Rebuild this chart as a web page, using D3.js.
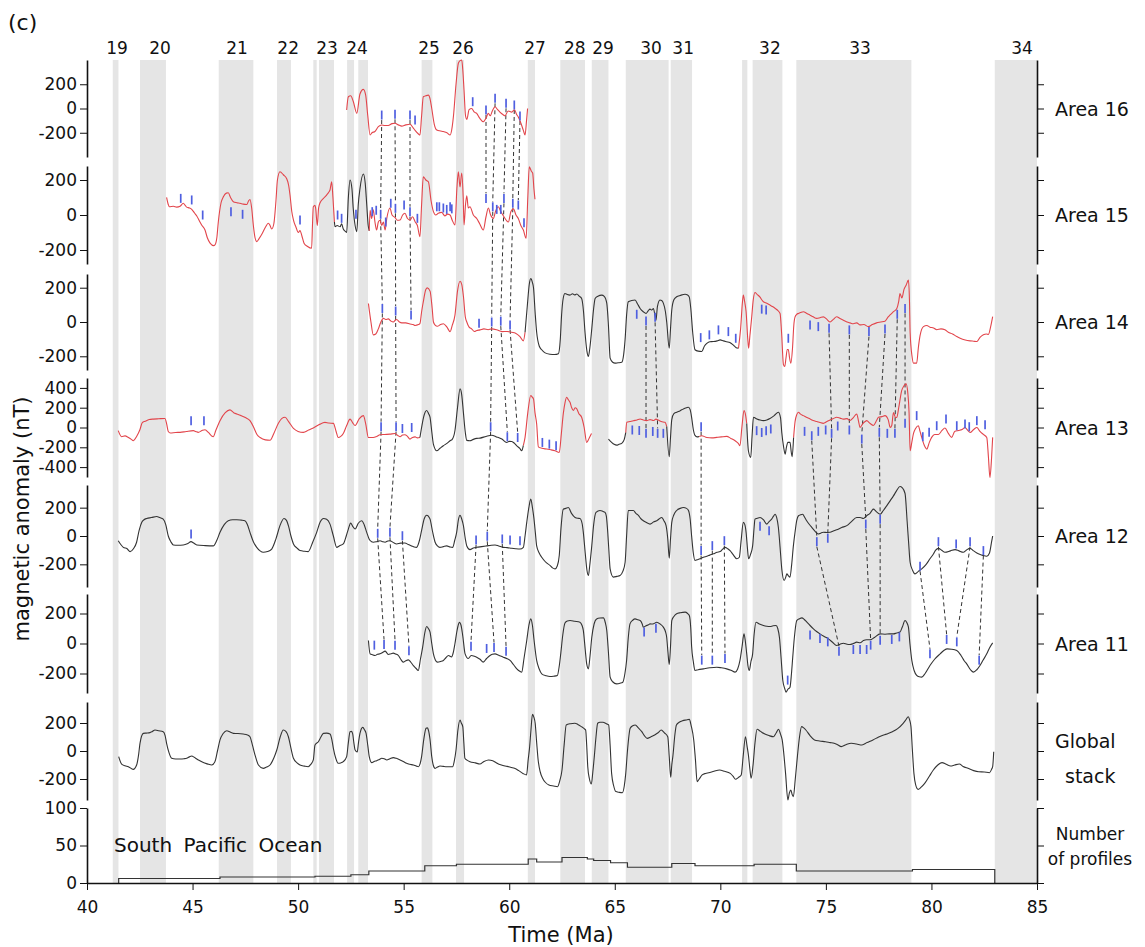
<!DOCTYPE html>
<html>
<head>
<meta charset="utf-8">
<script src="https://cdnjs.cloudflare.com/ajax/libs/d3/7.8.5/d3.min.js"></script>
<style>
  body { margin: 0; background: #fff; }
  svg text { font-family: "DejaVu Sans", "Liberation Sans", Arial, sans-serif; fill: #111; }
</style>
</head>
<body>
<div id="chart"></div>
<script>
// chron numbers along the top and where they sit (Ma)
var chronLabels = ["19","20","21","22","23","24","25","26","27","28","29","30","31","32","33","34"];
var chronLabelAge = [41.42,43.46,47.11,49.53,51.37,52.79,56.2,57.81,61.22,63.11,64.44,66.72,68.24,72.35,76.62,84.29];
// normal polarity intervals (Ma)
var chronBands = [[41.22,41.49],[42.51,43.74],[46.24,47.88],[49.0,49.66],[50.72,50.88],[50.99,51.7],
  [52.32,52.65],[52.85,53.31],[55.85,56.36],[57.48,57.86],[60.88,61.22],[62.42,63.59],[63.91,64.7],
  [65.52,67.55],[67.65,68.66],[71.03,71.28],[71.53,72.94],[73.6,79.05],[83.0,85.0]];

// anomaly profiles: segments of [Ma, nT]; "used" = in the stack, "excluded" = not used
var area16 = [
  ["excluded", [[52.30,-12],[52.38,97],[52.49,105],[52.61,60],[52.78,-40],[52.93,120],[53.09,158],[53.2,110],[53.3,-60],[53.41,-219],[53.5,-200],[53.64,-190],[53.8,-150],[53.96,-136],[54.1,-140],[54.27,-140],[54.45,-125],[54.59,-122],[54.75,-135],[54.91,-145],[55.1,-135],[55.3,-130],[55.45,-160],[55.54,-180],[55.7,-210],[55.77,-219],[55.85,-60],[55.93,97],[56.05,105],[56.17,110],[56.25,80],[56.33,0],[56.45,-130],[56.57,-177],[56.75,-185],[56.88,-190],[57.05,-200],[57.2,-219],[57.3,-150],[57.36,-60],[57.48,200],[57.59,373],[57.67,395],[57.75,400],[57.8,320],[57.86,150],[57.93,-60],[57.99,-90],[58.1,-10],[58.22,0],[58.35,-30],[58.46,-40],[58.6,-80],[58.77,-109],[58.9,-80],[59.01,-40],[59.1,-60],[59.2,-20],[59.33,15],[59.45,-10],[59.56,-30],[59.7,-50],[59.8,-60],[59.95,-20],[60.12,-30],[60.25,-10],[60.35,-50],[60.43,-70],[60.55,-120],[60.67,-180],[60.75,-219],[60.82,-100],[60.87,0]]]
];
var area15 = [
  ["excluded", [[43.77,101],[43.85,60],[43.9,47],[44.09,50],[44.25,45],[44.41,50],[44.56,67],[44.65,55],[44.72,45],[44.85,40],[44.96,32],[45.1,10],[45.2,-6],[45.35,-40],[45.43,-57],[45.59,-86],[45.7,-130],[45.83,-161],[46.0,-175],[46.06,-171],[46.15,-130],[46.22,-40],[46.35,70],[46.46,104],[46.6,125],[46.69,127],[46.8,100],[46.93,76],[47.1,70],[47.25,67],[47.4,62],[47.57,60],[47.65,80],[47.72,89],[47.8,40],[47.88,-60],[47.96,-130],[48.04,-152],[48.15,-135],[48.28,-110],[48.45,-70],[48.59,-47],[48.67,-60],[48.75,-80],[48.85,-50],[48.95,80],[49.02,200],[49.14,247],[49.3,230],[49.46,207],[49.55,170],[49.62,110],[49.7,20],[49.78,-29],[49.9,-70],[50.01,-100],[50.09,-89],[50.18,-120],[50.28,-161],[50.45,-180],[50.64,-190],[50.68,-60],[50.72,47],[50.8,55],[50.83,40],[50.91,-60],[50.97,40],[51.04,70],[51.2,95],[51.35,114],[51.45,130],[51.51,143],[51.59,190],[51.65,100],[51.72,-40]]],
  ["used", [[51.72,-40],[51.75,-67],[51.85,-60],[51.99,-67],[52.06,-50],[52.14,-80],[52.25,-95],[52.3,-100],[52.38,100],[52.46,200],[52.55,150],[52.61,40],[52.7,-60],[52.78,-95],[52.85,60],[52.93,150],[53.09,234],[53.18,180],[53.25,60],[53.32,-60],[53.37,-90]]],
  ["excluded", [[53.37,-90],[53.41,27],[53.48,-20],[53.56,30],[53.64,-40],[53.72,-86],[53.8,-40],[53.88,-30],[53.96,-60],[54.04,-40],[54.12,-86],[54.2,-20],[54.35,40],[54.45,0],[54.59,-14],[54.7,-30],[54.83,-29],[54.95,0],[55.06,10],[55.18,-20],[55.3,-29],[55.42,-10],[55.54,-38],[55.65,-60],[55.77,-124],[55.85,60],[55.93,218],[56.05,200],[56.17,190],[56.3,80],[56.41,19],[56.52,0],[56.64,10],[56.8,15],[56.95,-5],[57.08,5],[57.2,0],[57.3,-30],[57.43,-57],[57.52,150],[57.59,247],[57.67,160],[57.75,240],[57.82,100],[57.86,-57],[57.93,60],[57.99,110],[58.06,40],[58.14,47],[58.3,0],[58.46,-20],[58.6,-50],[58.77,-86],[58.9,-10],[59.01,40],[59.12,0],[59.25,-20],[59.35,20],[59.48,47],[59.6,20],[59.75,-10],[59.86,-30],[59.96,-40],[60.08,20],[60.2,35],[60.32,0],[60.43,-20],[60.55,-60],[60.67,-86],[60.8,-133],[60.88,100],[60.95,275],[61.05,250],[61.11,240],[61.17,150],[61.22,90]]]
];
var area14 = [
  ["excluded", [[53.33,108],[53.45,0],[53.56,-75],[53.68,-70],[53.8,-40],[53.92,0],[54.04,21],[54.15,15],[54.27,18],[54.4,5],[54.51,0],[54.6,10],[54.67,15],[54.8,0],[54.91,-5],[55.1,-5],[55.3,-12],[55.45,-15],[55.54,-20],[55.7,-15],[55.77,-10],[55.85,60],[55.93,118],[56.05,190],[56.12,199],[56.25,180],[56.35,80],[56.41,0],[56.5,-20],[56.59,-25],[56.75,-15],[56.88,-10],[57.05,-30],[57.2,-56],[57.3,-20],[57.43,40],[57.55,180],[57.67,238],[57.75,220],[57.83,150],[57.92,30],[57.99,0],[58.1,-30],[58.22,-40],[58.35,-55],[58.46,-50],[58.62,-46],[58.8,-40],[59.0,-45],[59.17,-40],[59.4,-45],[59.65,-56],[59.9,-55],[60.12,-60],[60.3,-65],[60.51,-85],[60.67,-110],[60.75,-60]]],
  ["used", [[60.75,-60],[60.86,99],[60.95,220],[61.02,253],[61.1,230],[61.15,200],[61.23,50],[61.3,-60],[61.42,-140],[61.54,-162],[61.7,-180],[61.93,-188],[62.15,-190],[62.33,-185],[62.42,-100],[62.48,40],[62.56,140],[62.64,166],[62.75,160],[62.88,157],[63.0,165],[63.1,158],[63.2,163],[63.32,150],[63.43,137],[63.52,60],[63.59,-60],[63.68,-170],[63.75,-201],[63.82,-150],[63.91,-40],[64.0,80],[64.07,137],[64.2,150],[64.38,157],[64.5,150],[64.62,110],[64.7,-20],[64.78,-211],[64.9,-235],[65.01,-240],[65.15,-238],[65.33,-235],[65.42,-190],[65.49,-100],[65.56,40],[65.64,118],[65.8,125],[65.96,128],[66.08,105],[66.2,79],[66.35,60],[66.48,50],[66.58,65],[66.67,75],[66.75,70],[66.83,79],[66.9,40],[66.95,10],[67.02,90],[67.14,128],[67.22,125],[67.3,110],[67.4,60],[67.46,0],[67.58,-153],[67.64,-40],[67.7,70],[67.8,130],[67.93,147],[68.1,155],[68.33,162],[68.45,158],[68.53,145],[68.6,80],[68.69,-60],[68.8,-162],[68.95,-170],[69.12,-172],[69.25,-140],[69.36,-125],[69.5,-115],[69.67,-114],[69.85,-110],[69.99,-104],[70.15,-110],[70.3,-115],[70.45,-120],[70.62,-135],[70.75,-150],[70.86,-153]]],
  ["excluded", [[70.86,-153],[70.96,-40],[71.05,120],[71.09,157],[71.15,120],[71.22,60],[71.3,-100],[71.34,-153],[71.4,-80],[71.48,20],[71.56,130],[71.64,172],[71.75,160],[71.88,145],[71.96,130],[72.04,118],[72.2,110],[72.35,99],[72.47,90],[72.59,80],[72.7,70],[72.83,50],[72.9,-60],[72.99,-249],[73.05,-260],[73.11,-210],[73.17,-160],[73.22,-160],[73.28,-210],[73.34,-240],[73.42,-150],[73.48,-20],[73.54,30],[73.62,45],[73.7,50],[73.8,55],[73.93,60],[74.1,50],[74.25,40],[74.4,30],[74.57,21],[74.72,25],[74.88,30],[75.05,15],[75.2,0],[75.35,15],[75.51,31],[75.67,20],[75.83,10],[76.0,0],[76.14,-5],[76.3,-10],[76.46,-5],[76.62,-17],[76.8,-15],[77.01,-27],[77.2,-15],[77.4,-5],[77.6,0],[77.8,5],[77.95,30],[78.04,41],[78.2,60],[78.36,79],[78.45,120],[78.51,166],[78.6,140],[78.7,190],[78.8,215],[78.91,244],[78.96,120],[78.99,-60],[79.08,-200],[79.15,-240],[79.3,-240],[79.38,-150],[79.46,-80],[79.62,-27],[79.78,-20],[79.93,-30],[80.1,-35],[80.25,-45],[80.45,-40],[80.64,-45],[80.8,-60],[81.0,-70],[81.2,-85],[81.36,-95],[81.6,-105],[81.83,-110],[82.0,-112],[82.15,-114],[82.3,-90],[82.46,-75],[82.6,-70],[82.7,-72],[82.8,-30],[82.9,31]]]
];
var area13 = [
  ["excluded", [[41.48,-32],[41.64,-93],[41.8,-85],[41.96,-101],[42.1,-120],[42.19,-134],[42.35,-90],[42.51,-20],[42.62,50],[42.75,63],[42.95,80],[43.14,85],[43.4,88],[43.69,91],[43.77,40],[43.85,-40],[43.95,-55],[44.2,-50],[44.41,-49],[44.7,-40],[45.04,-32],[45.15,-40],[45.27,-49],[45.45,-30],[45.59,-22],[45.75,-50],[45.9,-85],[45.98,-93],[46.1,-30],[46.3,69],[46.55,150],[46.77,178],[46.95,150],[47.09,137],[47.3,120],[47.5,100],[47.72,69],[47.9,0],[48.05,-70],[48.2,-101],[48.45,-125],[48.67,-129],[48.85,-60],[49.06,40],[49.22,90],[49.38,103],[49.55,60],[49.78,-10],[50.0,-40],[50.25,-49],[50.5,-25],[50.72,-5],[51.0,30],[51.27,52],[51.45,45],[51.67,42],[51.8,-40],[51.9,-101],[52.02,-90],[52.14,-61],[52.3,20],[52.46,85],[52.58,50],[52.7,20],[52.9,90],[53.09,120],[53.2,40],[53.33,-101],[53.56,-101],[53.72,-90],[53.88,-73],[54.1,-70],[54.35,-67],[54.59,-61],[54.72,-80],[54.83,-93],[54.95,-75],[55.06,-73],[55.18,-90],[55.3,-117],[55.42,-100],[55.54,-95],[55.65,-105],[55.77,-101]]],
  ["used", [[55.77,-101],[55.85,0],[55.95,110],[56.09,171],[56.18,140],[56.25,103],[56.33,-40],[56.41,-170],[56.57,-235],[56.72,-210],[56.88,-184],[57.05,-160],[57.2,-134],[57.3,-120],[57.43,-30],[57.55,200],[57.67,390],[57.75,330],[57.83,150],[57.92,-50],[57.99,-130],[58.14,-134],[58.3,-120],[58.46,-110],[58.62,-107],[58.9,-90],[59.17,-78],[59.4,-95],[59.65,-117],[59.88,-151],[60.0,-140],[60.12,-141],[60.25,-160],[60.36,-186],[60.5,-210],[60.59,-235],[60.67,-180]]],
  ["excluded", [[60.67,-180],[60.75,-99],[60.88,150],[61.02,323],[61.08,310],[61.15,289],[61.22,150],[61.3,35],[61.38,-195],[61.55,-210],[61.77,-218],[61.97,-225],[62.17,-235],[62.37,-252],[62.47,-60],[62.56,137],[62.65,260],[62.72,306],[62.8,280],[62.88,255],[62.96,200],[63.04,171],[63.12,200],[63.2,188],[63.3,140],[63.43,103],[63.55,0],[63.67,-151],[63.78,-110],[63.9,-60]]],
  ["used", [[64.7,-118],[64.85,-150],[64.97,-170],[65.09,-178],[65.2,-170],[65.33,-160],[65.45,-120],[65.52,-50]]],
  ["excluded", [[65.52,-50],[65.57,52],[65.72,60],[65.88,69],[66.05,75],[66.2,86],[66.35,75],[66.51,69],[66.67,80],[66.83,70],[66.95,85],[67.06,75],[67.2,60],[67.38,52],[67.46,10]]],
  ["used", [[67.46,10],[67.58,-296],[67.64,-100],[67.7,80],[67.8,140],[67.93,154],[68.1,170],[68.25,188],[68.4,200],[68.49,205],[68.57,180],[68.64,103],[68.72,-20],[68.8,-80],[68.9,-95],[69.0,-90]]],
  ["excluded", [[69.0,-90],[69.12,-83],[69.36,-101],[69.6,-105],[69.83,-100],[70.05,-95],[70.3,-90],[70.5,-110],[70.7,-134],[70.85,-160],[70.93,-184],[71.02,0],[71.12,171],[71.2,120],[71.25,40]]],
  ["used", [[71.25,40],[71.33,-235],[71.44,-303],[71.5,-100],[71.57,103],[71.73,86],[71.88,75],[72.04,69],[72.2,75],[72.35,90],[72.55,120],[72.75,154],[72.85,100],[72.91,-50],[73.0,-200],[73.07,-269],[73.13,-200],[73.2,-150],[73.3,-150],[73.36,-250],[73.4,-296],[73.47,-100]]],
  ["excluded", [[73.47,-100],[73.54,60],[73.62,130],[73.7,154],[73.8,135],[73.93,120],[74.1,100],[74.25,86],[74.4,70],[74.57,60],[74.72,50],[74.88,42],[75.05,60],[75.2,75],[75.35,90],[75.51,103],[75.67,95],[75.83,85],[76.0,90],[76.14,70],[76.3,100],[76.46,137],[76.55,60],[76.62,0],[76.75,40],[76.86,60],[76.93,69],[77.1,40],[77.25,20],[77.4,70],[77.49,103],[77.65,110],[77.8,120],[77.95,80],[78.05,0],[78.12,20],[78.2,150],[78.3,100],[78.36,103],[78.45,200],[78.59,373],[78.7,420],[78.8,441],[78.88,350],[78.94,150],[78.99,-235],[79.07,-150],[79.15,-60],[79.25,-10],[79.38,18],[79.46,-40],[79.54,-100],[79.66,-180],[79.78,-218],[79.9,-150],[80.01,-100],[80.15,-70],[80.33,-70],[80.5,-30],[80.64,-5],[80.8,-60],[80.96,-100],[81.1,-40],[81.28,-30],[81.45,-20],[81.59,0],[81.72,-30],[81.83,-50],[82.0,-20],[82.15,0],[82.3,-40],[82.46,-70],[82.62,-100],[82.7,-300],[82.77,-505],[82.85,-300],[82.9,-100]]]
];
var area12 = [
  ["used", [[41.48,-33],[41.6,-60],[41.72,-80],[41.9,-90],[42.04,-110],[42.2,-90],[42.35,-44],[42.47,40],[42.59,96],[42.7,115],[42.83,124],[43.05,130],[43.3,138],[43.45,130],[43.61,119],[43.73,80],[43.85,0],[43.97,-40],[44.09,-63],[44.3,-65],[44.56,-63],[44.75,-55],[44.93,-40],[45.05,-50],[45.2,-63],[45.6,-68],[45.98,-70],[46.15,-30],[46.3,26],[46.5,80],[46.69,108],[46.9,115],[47.09,115],[47.3,112],[47.48,108],[47.6,80],[47.72,26],[47.88,-40],[48.04,-80],[48.2,-105],[48.35,-115],[48.55,-110],[48.75,-92],[48.95,-20],[49.14,73],[49.33,124],[49.45,110],[49.54,73],[49.66,0],[49.78,-56],[49.95,-85],[50.09,-103],[50.3,-108],[50.48,-110],[50.7,-40],[50.88,26],[51.05,100],[51.2,124],[51.35,118],[51.51,84],[51.67,0],[51.83,-80],[51.95,-70],[52.14,-56],[52.28,0],[52.38,49],[52.49,91],[52.58,70],[52.7,49],[52.85,90],[53.01,108],[53.13,80],[53.25,26],[53.4,-30],[53.56,-44],[53.72,-40],[53.88,-33],[54.0,-40],[54.12,-44],[54.25,-35],[54.35,-33],[54.5,-45],[54.67,-56],[54.85,-50],[55.06,-49],[55.22,-60],[55.38,-70],[55.5,-78],[55.61,-80],[55.75,-30],[55.85,40],[55.97,120],[56.09,147],[56.17,140],[56.25,119],[56.37,30],[56.49,-44],[56.6,-70],[56.72,-80],[56.88,-75],[57.04,-70],[57.2,-78],[57.32,-80],[57.42,-30],[57.51,26],[57.6,120],[57.67,147],[57.75,120],[57.83,73],[57.92,-20],[57.99,-70],[58.14,-96],[58.3,-85],[58.46,-80],[58.7,-75],[58.93,-70],[59.15,-65],[59.33,-63],[59.5,-70],[59.72,-80],[59.9,-82],[60.12,-87],[60.3,-90],[60.51,-92],[60.67,-80],[60.75,0],[60.83,96],[60.93,200],[61.02,260],[61.1,200],[61.17,124],[61.24,20],[61.3,-70],[61.42,-120],[61.54,-150],[61.7,-180],[61.93,-208],[62.05,-225],[62.17,-232],[62.28,-210],[62.37,-138],[62.45,50],[62.56,189],[62.68,195],[62.8,201],[62.95,160],[63.12,131],[63.25,125],[63.35,124],[63.45,90],[63.51,26],[63.6,-120],[63.68,-240],[63.75,-279],[63.82,-200],[63.91,-70],[64.0,80],[64.11,166],[64.3,180],[64.42,175],[64.54,166],[64.6,140],[64.65,60],[64.72,-100],[64.78,-232],[64.93,-290],[65.1,-285],[65.25,-279],[65.38,-250],[65.49,-185],[65.56,0],[65.64,180],[65.88,180],[66.0,160],[66.12,145],[66.25,120],[66.35,108],[66.5,95],[66.67,84],[66.85,100],[66.99,108],[67.1,120],[67.22,131],[67.32,110],[67.43,73],[67.51,-20],[67.58,-157],[67.64,-20],[67.7,96],[67.8,150],[67.93,180],[68.1,195],[68.25,201],[68.4,195],[68.49,180],[68.57,120],[68.64,0],[68.72,-120],[68.8,-173],[68.9,-168],[69.04,-161],[69.2,-150],[69.36,-143],[69.5,-135],[69.67,-126],[69.85,-115],[69.99,-110],[70.1,-95],[70.22,-80],[70.35,-90],[70.46,-103],[70.6,-130],[70.78,-161],[70.9,-150],[70.98,-40],[71.09,96],[71.16,80],[71.22,26],[71.28,-80],[71.34,-161],[71.43,-130],[71.53,-70],[71.6,60],[71.64,119],[71.75,125],[71.88,131],[72.04,115],[72.2,84],[72.3,100],[72.43,119],[72.52,140],[72.59,154],[72.67,130],[72.75,60],[72.83,-80],[72.91,-232],[73.02,-314],[73.1,-290],[73.15,-267],[73.22,-280],[73.3,-290],[73.38,-200],[73.46,-70],[73.55,40],[73.62,110],[73.7,143],[73.8,150],[73.9,154],[74.0,130],[74.09,108],[74.2,85],[74.33,61],[74.48,35],[74.64,14],[74.75,20],[74.88,26],[75.05,25],[75.2,26],[75.35,35],[75.51,44],[75.75,60],[75.99,73],[76.2,100],[76.46,131],[76.62,131],[76.78,124],[76.93,143],[77.09,160],[77.25,190],[77.4,170],[77.57,154],[77.72,180],[77.88,213],[78.05,250],[78.2,283],[78.35,320],[78.51,349],[78.62,340],[78.75,300],[78.85,100],[78.92,-50],[78.99,-185],[79.1,-240],[79.22,-267],[79.38,-250],[79.54,-232],[79.75,-200],[79.93,-161],[80.1,-125],[80.2,-100],[80.33,-87],[80.48,-100],[80.64,-115],[80.9,-105],[81.12,-96],[81.3,-105],[81.51,-115],[81.65,-100],[81.83,-87],[82.0,-105],[82.22,-126],[82.4,-135],[82.62,-143],[82.75,-120],[82.85,-40],[82.9,0]]]
];
var area11 = [
  ["used", [[53.33,20],[53.41,-69],[53.52,-75],[53.64,-80],[53.76,-72],[53.88,-69],[54.0,-60],[54.12,-51],[54.2,-62],[54.27,-73],[54.4,-68],[54.51,-64],[54.62,-70],[54.75,-80],[54.86,-105],[54.98,-124],[55.1,-115],[55.22,-109],[55.34,-125],[55.46,-147],[55.58,-165],[55.69,-180],[55.8,-100],[55.9,-24],[56.0,70],[56.09,113],[56.17,100],[56.25,76],[56.33,0],[56.41,-69],[56.5,-110],[56.59,-124],[56.75,-120],[56.88,-113],[57.0,-95],[57.12,-80],[57.27,-89],[57.35,-60],[57.43,0],[57.52,80],[57.6,130],[57.64,142],[57.72,120],[57.8,50],[57.91,-69],[58.06,-100],[58.2,-80],[58.35,-85],[58.5,-95],[58.62,-105],[58.77,-124],[58.93,-100],[59.09,-80],[59.2,-72],[59.33,-69],[59.5,-78],[59.72,-91],[59.88,-100],[60.04,-113],[60.2,-140],[60.36,-169],[60.5,-185],[60.59,-191],[60.7,-100],[60.83,20],[60.93,120],[61.02,164],[61.1,120],[61.17,30],[61.3,-113],[61.42,-170],[61.54,-202],[61.75,-215],[61.93,-220],[62.1,-218],[62.28,-213],[62.37,-150],[62.44,-69],[62.54,60],[62.64,136],[62.75,150],[62.88,153],[63.1,148],[63.35,142],[63.45,120],[63.51,87],[63.6,-40],[63.67,-136],[63.75,-169],[63.83,-80],[63.91,40],[64.02,130],[64.14,164],[64.3,170],[64.46,171],[64.55,140],[64.62,87],[64.7,-60],[64.78,-224],[64.9,-255],[65.09,-269],[65.25,-265],[65.38,-258],[65.48,-200],[65.56,-113],[65.64,40],[65.72,131],[65.85,155],[65.96,164],[66.1,158],[66.2,153],[66.3,130],[66.35,109],[66.48,118],[66.6,125],[66.67,131],[66.8,130],[66.99,142],[67.15,130],[67.3,109],[67.4,80],[67.46,40],[67.52,-60],[67.58,-140],[67.64,-20],[67.7,153],[67.8,180],[67.93,198],[68.1,205],[68.33,209],[68.45,200],[68.53,187],[68.6,100],[68.64,-20],[68.72,-120],[68.8,-180],[68.95,-175],[69.2,-169],[69.5,-162],[69.83,-158],[70.05,-162],[70.3,-169],[70.5,-178],[70.7,-191],[70.82,-170],[70.93,-113],[71.03,-20],[71.12,64],[71.18,20],[71.25,-69],[71.31,-150],[71.37,-180],[71.45,-120],[71.53,-69],[71.6,60],[71.69,142],[71.85,130],[72.04,120],[72.2,115],[72.35,113],[72.5,118],[72.64,120],[72.72,100],[72.8,40],[72.88,-100],[72.96,-247],[73.05,-300],[73.11,-324],[73.2,-305],[73.3,-291],[73.37,-200],[73.43,-91],[73.5,30],[73.62,153],[73.75,165],[73.86,171],[73.98,160],[74.1,142],[74.25,120],[74.41,98],[74.56,80],[74.72,64],[74.9,48],[75.12,31],[75.3,10],[75.51,-13],[75.67,-5],[75.83,2],[76.0,-5],[76.14,-7],[76.3,0],[76.46,9],[76.62,5],[76.78,20],[76.93,25],[77.09,25],[77.3,40],[77.57,64],[77.8,62],[78.0,64],[78.2,64],[78.35,70],[78.51,76],[78.62,110],[78.75,153],[78.83,140],[78.91,109],[78.98,0],[79.07,-113],[79.18,-180],[79.3,-213],[79.42,-222],[79.54,-224],[79.7,-200],[79.93,-147],[80.15,-105],[80.41,-69],[80.6,-45],[80.75,-36],[80.95,-38],[81.2,-47],[81.4,-80],[81.55,-115],[81.67,-136],[81.85,-175],[81.99,-191],[82.15,-175],[82.3,-147],[82.45,-110],[82.62,-69],[82.75,-30],[82.9,4]]]
];
var globalStack = [
  ["used", [[41.5,-40],[41.64,-93],[41.8,-105],[41.96,-112],[42.19,-131],[42.35,-100],[42.45,-20],[42.51,55],[42.67,126],[42.8,128],[42.98,131],[43.1,140],[43.22,150],[43.4,145],[43.61,138],[43.7,110],[43.77,55],[43.88,-10],[44.01,-52],[44.2,-57],[44.41,-57],[44.6,-55],[44.72,-52],[44.85,-42],[44.96,-36],[45.08,-45],[45.2,-57],[45.35,-70],[45.51,-83],[45.7,-92],[45.91,-100],[46.06,-76],[46.18,0],[46.3,79],[46.45,125],[46.62,145],[46.78,135],[46.93,126],[47.15,125],[47.4,121],[47.6,115],[47.72,102],[47.84,40],[47.96,-29],[48.12,-100],[48.35,-124],[48.5,-115],[48.67,-100],[48.85,-50],[48.99,7],[49.15,100],[49.3,150],[49.42,140],[49.54,102],[49.66,20],[49.78,-52],[49.95,-85],[50.09,-100],[50.3,-108],[50.48,-112],[50.6,-95],[50.72,-64],[50.8,43],[50.96,66],[51.08,100],[51.2,126],[51.35,128],[51.51,121],[51.6,80],[51.67,19],[51.78,-50],[51.9,-88],[52.02,-85],[52.14,-76],[52.3,-40],[52.38,60],[52.46,138],[52.52,140],[52.58,126],[52.64,60],[52.7,7],[52.8,-7],[52.86,60],[52.93,126],[53.06,169],[53.15,150],[53.22,126],[53.3,40],[53.37,-40],[53.49,-83],[53.6,-75],[53.72,-69],[53.85,-60],[53.96,-52],[54.08,-55],[54.2,-64],[54.35,-55],[54.51,-47],[54.65,-52],[54.83,-64],[54.98,-75],[55.14,-88],[55.3,-95],[55.46,-100],[55.6,-108],[55.7,-112],[55.78,-90],[55.85,-40],[55.95,80],[56.06,162],[56.12,165],[56.17,150],[56.25,80],[56.33,-40],[56.4,-100],[56.49,-124],[56.6,-115],[56.72,-107],[56.88,-110],[57.04,-112],[57.2,-112],[57.32,-112],[57.4,-70],[57.48,7],[57.57,150],[57.67,221],[57.73,200],[57.8,174],[57.85,60],[57.9,-52],[58.0,-65],[58.14,-76],[58.4,-85],[58.61,-93],[58.8,-75],[59.02,-64],[59.22,-69],[59.4,-85],[59.63,-100],[59.9,-110],[60.1,-118],[60.25,-124],[60.45,-140],[60.65,-160],[60.82,-171],[60.9,-60],[60.96,19],[61.03,150],[61.1,262],[61.17,240],[61.23,198],[61.3,60],[61.37,-64],[61.47,-150],[61.58,-195],[61.72,-225],[61.88,-243],[62.1,-250],[62.29,-255],[62.4,-210],[62.5,-136],[62.6,40],[62.7,186],[62.9,195],[63.11,198],[63.25,190],[63.42,174],[63.55,160],[63.62,150],[63.67,40],[63.72,-112],[63.8,-200],[63.89,-236],[63.96,-150],[64.03,-40],[64.11,100],[64.19,198],[64.3,205],[64.44,205],[64.6,195],[64.71,186],[64.78,40],[64.85,-160],[64.95,-250],[65.05,-290],[65.2,-295],[65.36,-298],[65.45,-250],[65.52,-160],[65.6,0],[65.73,162],[65.85,180],[65.97,186],[66.12,165],[66.28,138],[66.4,110],[66.54,90],[66.7,100],[66.89,114],[67.05,130],[67.2,150],[67.35,130],[67.51,102],[67.58,-40],[67.65,-188],[67.7,-100],[67.75,-40],[67.85,120],[67.92,186],[68.05,205],[68.22,217],[68.38,222],[68.53,226],[68.62,180],[68.74,79],[68.82,-60],[68.9,-219],[69.0,-200],[69.14,-171],[69.3,-160],[69.45,-155],[69.7,-145],[69.96,-136],[70.2,-145],[70.47,-160],[70.6,-180],[70.72,-202],[70.85,-190],[70.99,-171],[71.08,-40],[71.19,102],[71.26,40],[71.33,-29],[71.4,-130],[71.46,-195],[71.55,-100],[71.64,55],[71.74,155],[71.9,140],[72.11,121],[72.3,110],[72.52,102],[72.65,130],[72.76,155],[72.85,120],[72.93,79],[73.02,-40],[73.09,-160],[73.2,-350],[73.27,-300],[73.34,-279],[73.4,-310],[73.46,-326],[73.55,-200],[73.65,-40],[73.75,100],[73.85,174],[73.95,165],[74.05,150],[74.25,110],[74.46,79],[74.7,72],[74.98,66],[75.2,60],[75.39,55],[75.55,45],[75.73,31],[75.95,45],[76.2,55],[76.45,50],[76.71,43],[76.95,60],[77.23,79],[77.5,100],[77.74,114],[77.95,125],[78.15,138],[78.4,160],[78.66,198],[78.8,225],[78.9,245],[78.97,220],[79.03,174],[79.1,0],[79.17,-160],[79.25,-240],[79.37,-274],[79.5,-260],[79.68,-231],[79.9,-180],[80.09,-136],[80.3,-100],[80.5,-83],[80.7,-95],[80.91,-107],[81.1,-100],[81.32,-93],[81.5,-110],[81.73,-124],[82.0,-140],[82.24,-148],[82.5,-150],[82.75,-155],[82.85,-130],[82.9,-112],[82.95,-5]]]
];
// number of profiles stacked: [start of step (Ma), count]
var profileSteps = [[41.5,0],[41.5,6],[46.3,8],[50.8,9],[52.5,11],[53.35,16],[56.0,23],[57.5,25],[60.9,32],[61.3,28],[62.5,34],[63.7,32],[64.0,30],[64.8,27],[65.6,21],[67.7,26],[68.8,23],[71.6,25],[73.6,16],[79.1,18],[83.0,18],[83.0,0]];

// picked anomaly features [Ma, nT]
var picks16 = [[53.96,-54],[54.59,-48],[55.3,-54],[55.54,-95],[58.27,56],[58.9,-12],[59.33,84],[59.85,43],[60.24,29],[60.51,-62]];
var picks15 = [[44.44,95],[44.96,86],[45.48,0],[46.82,19],[47.37,4],[50.09,-29],[51.87,0],[52.06,-19],[52.74,4],[53.51,19],[53.7,27],[53.91,4],[54.15,-40],[54.39,67],[54.61,38],[55.02,57],[55.3,19],[55.65,-19],[56.57,47],[56.69,47],[56.88,40],[57.04,32],[57.2,47],[57.28,35],[58.9,95],[59.22,47],[59.41,32],[59.6,32],[59.75,95],[60.17,67],[60.43,57],[60.7,-44]];
var picks14 = [[53.99,79],[54.62,64],[55.35,41],[58.57,-8],[59.17,0],[59.6,5],[60.04,-17],[66.04,45],[66.48,6],[66.91,27],[69.07,-91],[69.48,-75],[69.91,-46],[70.38,-56],[70.73,-95],[71.96,75],[72.17,70],[73.22,-95],[74.25,-17],[74.64,-27],[75.15,-37],[76.11,-46],[77.04,-56],[77.8,-41],[78.38,45],[78.75,79]];
var picks13 = [[44.93,69],[45.54,69],[53.93,8],[54.64,8],[54.94,-10],[55.38,0],[59.12,8],[59.91,-93],[60.4,-101],[61.57,-151],[61.9,-168],[62.22,-184],[65.83,-25],[66.16,-30],[66.48,-59],[66.8,-40],[67.03,-59],[67.3,-59],[69.09,8],[71.72,-32],[71.96,-50],[72.17,-32],[72.39,-15],[73.99,-39],[74.33,-83],[74.64,-39],[74.99,-25],[75.27,-59],[75.56,15],[76.11,-25],[76.7,-117],[77.53,-49],[77.91,-59],[78.27,-59],[78.75,42],[79.3,120],[79.59,-93],[79.89,-49],[80.25,18],[80.69,86],[81.2,18],[81.59,35],[81.79,8],[82.15,69],[82.54,28]];
var picks12 = [[44.93,14],[53.77,19],[54.35,26],[54.94,2],[58.43,-28],[58.96,-2],[59.67,-21],[60.04,-28],[60.51,-33],[69.09,-103],[69.62,-68],[70.19,-33],[71.88,68],[72.31,37],[74.57,-40],[75.09,-16],[76.89,84],[77.57,119],[79.46,-213],[80.33,-40],[81.17,-56],[81.83,-40],[82.46,-103]];
var picks11 = [[53.61,-11],[54.07,-7],[54.59,-11],[55.25,-49],[58.19,-18],[58.93,-33],[59.28,-27],[59.85,-51],[66.39,76],[66.95,102],[69.12,-111],[69.62,-111],[70.22,-100],[73.19,-244],[74.25,56],[74.72,33],[75.09,11],[75.62,-51],[76.3,-40],[76.62,-40],[76.93,-40],[77.12,-11],[77.57,22],[78.12,27],[78.48,44],[79.93,-69],[80.72,27],[81.2,11],[82.26,-111]];

// correlations between picks of neighbouring areas: [upper area, Ma, lower area, Ma]
var links = [
  ["Area 16",53.96,"Area 15",53.91],["Area 16",54.59,"Area 15",54.61],["Area 16",55.3,"Area 15",55.3],
  ["Area 16",58.9,"Area 15",58.9],["Area 16",59.33,"Area 15",59.22],["Area 16",59.85,"Area 15",59.75],
  ["Area 16",60.24,"Area 15",60.17],["Area 16",60.51,"Area 15",60.43],
  ["Area 15",53.91,"Area 14",53.99],["Area 15",54.61,"Area 14",54.62],["Area 15",55.3,"Area 14",55.35],
  ["Area 15",59.22,"Area 14",59.17],["Area 15",59.75,"Area 14",59.6],["Area 15",60.17,"Area 14",60.04],
  ["Area 14",53.99,"Area 13",53.93],["Area 14",54.62,"Area 13",54.64],["Area 14",59.17,"Area 13",59.12],
  ["Area 14",59.6,"Area 13",59.91],["Area 14",60.04,"Area 13",60.4],["Area 14",66.48,"Area 13",66.48],
  ["Area 14",66.91,"Area 13",67.03],["Area 14",75.15,"Area 13",75.27],["Area 14",76.11,"Area 13",76.11],
  ["Area 14",77.04,"Area 13",76.7],["Area 14",77.8,"Area 13",77.53],["Area 14",78.38,"Area 13",78.27],
  ["Area 14",78.75,"Area 13",78.75],
  ["Area 13",53.93,"Area 12",53.77],["Area 13",54.64,"Area 12",54.35],["Area 13",59.12,"Area 12",58.96],
  ["Area 13",69.09,"Area 12",69.09],["Area 13",74.33,"Area 12",74.57],["Area 13",75.27,"Area 12",75.09],
  ["Area 13",76.7,"Area 12",76.89],["Area 13",77.53,"Area 12",77.57],
  ["Area 12",53.77,"Area 11",54.07],["Area 12",54.35,"Area 11",54.59],["Area 12",54.94,"Area 11",55.25],
  ["Area 12",58.43,"Area 11",58.19],["Area 12",58.96,"Area 11",59.28],["Area 12",59.67,"Area 11",59.85],
  ["Area 12",69.09,"Area 11",69.12],["Area 12",69.62,"Area 11",69.62],["Area 12",70.19,"Area 11",70.22],
  ["Area 12",74.57,"Area 11",75.62],["Area 12",76.89,"Area 11",77.12],["Area 12",77.57,"Area 11",77.57],
  ["Area 12",79.46,"Area 11",79.93],["Area 12",80.33,"Area 11",80.72],["Area 12",81.83,"Area 11",81.2],
  ["Area 12",82.46,"Area 11",82.26]
];

// ---- layout ----
var W = 1145, H = 947;
var svg = d3.select("#chart").append("svg").attr("width", W).attr("height", H);

var x = d3.scaleLinear().domain([40, 85]).range([87, 1037]);
var plotTop = 60, plotBottom = 883;
var plain = function (d) { return String(d); };   // hyphen minus like the original

var panels = [
  {name: "Area 16", series: area16, picks: picks16, top: 60, bottom: 157, lim: 400, major: [-200, 0, 200]},
  {name: "Area 15", series: area15, picks: picks15, top: 166, bottom: 264, lim: 280, major: [-200, 0, 200]},
  {name: "Area 14", series: area14, picks: picks14, top: 274, bottom: 370, lim: 280, major: [-200, 0, 200]},
  {name: "Area 13", series: area13, picks: picks13, top: 378, bottom: 477, lim: 500, major: [-400, -200, 0, 200, 400]},
  {name: "Area 12", series: area12, picks: picks12, top: 485, bottom: 587, lim: 360, major: [-200, 0, 200]},
  {name: "Area 11", series: area11, picks: picks11, top: 594, bottom: 693, lim: 330, major: [-200, 0, 200]},
  {name: "Global stack", series: globalStack, picks: [], top: 702, bottom: 800, lim: 350, major: [-200, 0, 200]}
];
panels.forEach(function (p) {
  p.y = d3.scaleLinear().domain([-p.lim, p.lim]).range([p.bottom, p.top]);
});
var byName = {};
panels.forEach(function (p) { byName[p.name] = p; });

var yProf = d3.scaleLinear().domain([0, 100]).range([883, 808]);

// polarity bands
svg.append("g").selectAll("rect")
  .data(chronBands)
  .enter().append("rect")
  .attr("x", function (d) { return x(d[0]); })
  .attr("width", function (d) { return x(d[1]) - x(d[0]); })
  .attr("y", plotTop)
  .attr("height", plotBottom - plotTop)
  .attr("fill", "#e5e5e5");

// chron numbers
svg.append("g").selectAll("text")
  .data(chronLabels)
  .enter().append("text")
  .attr("x", function (d, i) { return x(chronLabelAge[i]); })
  .attr("y", 54)
  .attr("text-anchor", "middle")
  .attr("font-size", 17)
  .text(function (d) { return d; });

function pickAt(panel, ma) {
  var best = null;
  panel.picks.forEach(function (d) {
    if (!best || Math.abs(d[0] - ma) < Math.abs(best[0] - ma)) best = d;
  });
  return best;
}

// dashed correlation lines
var gLinks = svg.append("g");
links.forEach(function (l) {
  var pa = byName[l[0]], pb = byName[l[2]];
  var a = pickAt(pa, l[1]), b = pickAt(pb, l[3]);
  gLinks.append("line")
    .attr("x1", x(a[0])).attr("y1", pa.y(a[1]) + 5)
    .attr("x2", x(b[0])).attr("y2", pb.y(b[1]) - 5)
    .attr("stroke", "#333")
    .attr("stroke-width", 1)
    .attr("stroke-dasharray", "4,3");
});

// profiles
panels.forEach(function (p) {
  var line = d3.line()
    .x(function (d) { return x(d[0]); })
    .y(function (d) { return p.y(d[1]); })
    .curve(d3.curveMonotoneX);
  var g = svg.append("g");
  g.selectAll("path")
    .data(p.series)
    .enter().append("path")
    .attr("d", function (d) { return line(d[1]); })
    .attr("fill", "none")
    .attr("stroke", function (d) { return d[0] === "used" ? "#333" : "#e2454b"; })
    .attr("stroke-width", 1.1);

  g.selectAll("line.pick")
    .data(p.picks)
    .enter().append("line")
    .attr("class", "pick")
    .attr("x1", function (d) { return x(d[0]); })
    .attr("x2", function (d) { return x(d[0]); })
    .attr("y1", function (d) { return p.y(d[1]) - 4.5; })
    .attr("y2", function (d) { return p.y(d[1]) + 4.5; })
    .attr("stroke", "#4f5fe0")
    .attr("stroke-width", 1.7);

  // left and right axes
  var minor = d3.range(-p.lim + (p.lim % 50), p.lim + 0.1, 50);
  var gl = svg.append("g").attr("transform", "translate(87,0)");
  gl.call(d3.axisLeft(p.y).tickValues(minor).tickSize(3).tickSizeOuter(0).tickFormat(""));
  gl.call(d3.axisLeft(p.y).tickValues(p.major).tickSize(7).tickSizeOuter(0).tickPadding(3).tickFormat(plain));
  var gr = svg.append("g").attr("transform", "translate(1037,0)");
  gr.call(d3.axisRight(p.y).tickValues(minor).tickSize(3).tickSizeOuter(0).tickFormat(""));
  gr.call(d3.axisRight(p.y).tickValues(p.major).tickSize(7).tickSizeOuter(0).tickFormat(""));
});

// number of profiles
svg.append("path")
  .attr("d", d3.line()
    .x(function (d) { return x(d[0]); })
    .y(function (d) { return yProf(d[1]); })
    .curve(d3.curveStepAfter)(profileSteps))
  .attr("fill", "none")
  .attr("stroke", "#333")
  .attr("stroke-width", 1.2);

var profMinor = d3.range(0, 101, 10);
var gpl = svg.append("g").attr("transform", "translate(87,0)");
gpl.call(d3.axisLeft(yProf).tickValues(profMinor).tickSize(3).tickSizeOuter(0).tickFormat(""));
gpl.call(d3.axisLeft(yProf).tickValues([0, 50, 100]).tickSize(7).tickSizeOuter(0).tickPadding(3).tickFormat(plain));
var gpr = svg.append("g").attr("transform", "translate(1037,0)");
gpr.call(d3.axisRight(yProf).tickValues(profMinor).tickSize(3).tickSizeOuter(0).tickFormat(""));
gpr.call(d3.axisRight(yProf).tickValues([0, 50, 100]).tickSize(7).tickSizeOuter(0).tickFormat(""));

// x axis
var gx = svg.append("g").attr("transform", "translate(0,883)");
gx.call(d3.axisBottom(x).tickValues(d3.range(40, 86, 1)).tickSize(4).tickSizeOuter(0).tickFormat(""));
gx.call(d3.axisBottom(x).tickValues(d3.range(40, 86, 5)).tickSize(7).tickSizeOuter(0).tickPadding(11).tickFormat(plain));

svg.selectAll(".domain").attr("stroke", "#111").attr("stroke-width", 1.6);
svg.selectAll(".tick line").attr("stroke", "#111");
svg.selectAll(".tick text").attr("font-size", 17)
  .attr("font-family", "'DejaVu Sans', 'Liberation Sans', Arial, sans-serif").attr("fill", "#111");

// right-hand names
panels.slice(0, 6).forEach(function (p) {
  svg.append("text")
    .attr("x", 1055).attr("y", (p.top + p.bottom) / 2 + 7)
    .attr("font-size", 19).text(p.name);
});
svg.append("text").attr("x", 1055).attr("y", 748).attr("font-size", 19).text("Global");
svg.append("text").attr("x", 1065).attr("y", 783).attr("font-size", 19).text("stack");
svg.append("text").attr("x", 1090).attr("y", 840).attr("font-size", 17).attr("text-anchor", "middle").text("Number");
svg.append("text").attr("x", 1090).attr("y", 865).attr("font-size", 17).attr("text-anchor", "middle").text("of profiles");

svg.append("text").attr("x", 114).attr("y", 852).attr("font-size", 20)
  .attr("word-spacing", 5).text("South Pacific Ocean");

svg.append("text").attr("x", 8).attr("y", 30).attr("font-size", 22).text("(c)");

svg.append("text")
  .attr("transform", "translate(29,519) rotate(-90)")
  .attr("text-anchor", "middle").attr("font-size", 21)
  .text("magnetic anomaly (nT)");

svg.append("text").attr("x", 561).attr("y", 942).attr("text-anchor", "middle")
  .attr("font-size", 21).text("Time (Ma)");
</script>
</body>
</html>
